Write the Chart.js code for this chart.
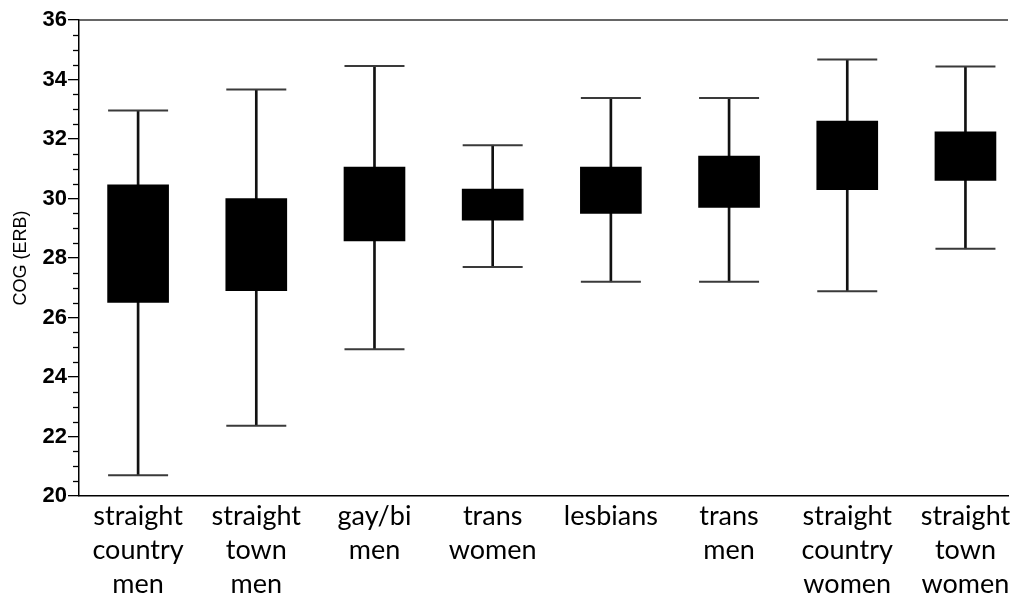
<!DOCTYPE html>
<html>
<head>
<meta charset="utf-8">
<script src="https://cdn.jsdelivr.net/npm/chart.js@4.4.1/dist/chart.umd.min.js"></script>
<style>
  html, body { margin: 0; padding: 0; background: #fff; }
  #wrap { width: 1011px; height: 595px; }
</style>
</head>
<body>
<div id="wrap"><canvas id="cog-chart"></canvas></div>
<script>
// groups on the x axis (multi-line labels)
const categories = [
    ['straight', 'country', 'men'],
    ['straight', 'town', 'men'],
    ['gay/bi', 'men'],
    ['trans', 'women'],
    ['lesbians'],
    ['trans', 'men'],
    ['straight', 'country', 'women'],
    ['straight', 'town', 'women']
];

// box plot values (ERB)
const whiskerLow  = [20.70, 22.36, 24.93, 27.70, 27.20, 27.20, 26.88, 28.31];
const boxLow      = [26.51, 26.90, 28.57, 29.27, 29.50, 29.70, 30.30, 30.61];
const boxHigh     = [30.46, 30.00, 31.06, 30.32, 31.06, 31.43, 32.60, 32.24];
const whiskerHigh = [32.96, 33.66, 34.45, 31.79, 33.38, 33.38, 34.67, 34.44];

const yTicks = [20, 22, 24, 26, 28, 30, 32, 34, 36];

const boxData = categories.map((c, i) => ({ x: i + 1, y: [boxLow[i], boxHigh[i]] }));
const whiskerData = categories.map((c, i) => ({ x: i + 1, y: [whiskerLow[i], whiskerHigh[i]] }));
const capData = [];
categories.forEach((c, i) => {
    capData.push({ x: i + 1, y: whiskerLow[i] });
    capData.push({ x: i + 1, y: whiskerHigh[i] });
});

// no extra room for overflowing tick labels, the picture is cut at the right
function noOverflow(axis) {
    axis.paddingLeft = 0;
    axis.paddingRight = 0;
    axis.paddingTop = 0;
    axis.paddingBottom = 0;
}

// short minor ticks every 0.5 and the top frame line
const framePlugin = {
    id: 'frame',
    afterDraw(chart) {
        const ctx = chart.ctx;
        const y = chart.scales.y;
        const area = chart.chartArea;
        ctx.save();
        ctx.strokeStyle = '#000';
        ctx.lineWidth = 1.3;
        for (let v = y.min; v <= y.max; v += 0.5) {
            if (yTicks.includes(v)) continue;
            const py = Math.round(y.getPixelForValue(v)) + 0.5;
            ctx.beginPath();
            ctx.moveTo(area.left - 6, py);
            ctx.lineTo(area.left, py);
            ctx.stroke();
        }
        ctx.strokeStyle = '#333';
        ctx.lineWidth = 1.5;
        ctx.beginPath();
        ctx.moveTo(area.left, area.top);
        ctx.lineTo(area.right, area.top);
        ctx.stroke();
        ctx.restore();
    }
};

const ctx = document.getElementById('cog-chart').getContext('2d');
new Chart(ctx, {
    type: 'bar',
    data: {
        datasets: [
            {
                label: 'box',
                data: boxData,
                backgroundColor: '#000',
                borderWidth: 0,
                barThickness: 61,
                grouped: false,
                order: 1
            },
            {
                label: 'whisker',
                data: whiskerData,
                backgroundColor: '#111',
                borderWidth: 0,
                barThickness: 2,
                grouped: false,
                order: 2
            },
            {
                type: 'line',
                label: 'caps',
                data: capData,
                showLine: false,
                pointStyle: 'line',
                pointRadius: 30,
                pointHoverRadius: 30,
                pointBorderWidth: 2,
                pointBorderColor: '#3a3a3a',
                order: 0
            }
        ]
    },
    options: {
        responsive: true,
        maintainAspectRatio: false,
        animation: false,
        layout: { autoPadding: false, padding: { top: 20, right: 3, left: 0, bottom: 0 } },
        plugins: {
            legend: { display: false },
            tooltip: { enabled: false }
        },
        scales: {
            x: {
                type: 'linear',
                offset: false,
                min: 0.5,
                max: 8.36,
                afterBuildTicks: axis => { axis.ticks = categories.map((c, i) => ({ value: i + 1 })); },
                afterFit: axis => { axis.height = 99; noOverflow(axis); },
                grid: { display: false, offset: false },
                border: { display: true, color: '#000', width: 1.5 },
                ticks: {
                    autoSkip: false,
                    maxRotation: 0,
                    padding: -5,
                    color: '#000',
                    font: { family: 'Lato', size: 27, lineHeight: 1.26 },
                    callback: v => categories[v - 1]
                }
            },
            y: {
                min: 20,
                max: 36,
                afterBuildTicks: axis => { axis.ticks = yTicks.map(v => ({ value: v })); },
                afterFit: axis => { axis.width = 79; noOverflow(axis); },
                grid: { drawOnChartArea: false, tickLength: 11, color: '#000', lineWidth: 1.3 },
                border: { display: true, color: '#000', width: 1.5 },
                ticks: {
                    padding: 1,
                    color: '#000',
                    font: { family: 'Liberation Sans', size: 22, weight: 'bold' }
                },
                title: {
                    display: true,
                    text: 'COG (ERB)',
                    color: '#000',
                    padding: { top: 10, bottom: 0 },
                    font: { family: 'Liberation Sans', size: 18 }
                }
            }
        }
    },
    plugins: [framePlugin]
});
</script>
</body>
</html>
